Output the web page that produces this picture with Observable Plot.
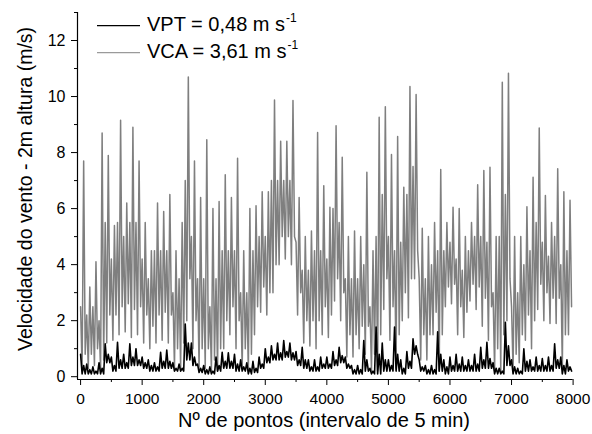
<!DOCTYPE html>
<html><head><meta charset="utf-8">
<script src="https://cdn.jsdelivr.net/npm/d3@7"></script>
<script src="https://cdn.jsdelivr.net/npm/@observablehq/plot@0.6"></script>
<style>
body{margin:0;background:#fff;}
#wrap{position:relative;width:592px;height:434px;font-family:"Liberation Sans",Arial,sans-serif;}
</style></head><body><div id="wrap"></div>
<script>
// Sample index of each 100-point bin start (Nº de pontos)
const binStarts = d3.range(0, 8000, 100);
// VCA (gray) per 100-point bin: maximum, minimum, upper and lower edge of the dense band (m/s)
const vcaMax = [7.7,3.2,4.1,8.7,7.9,5.4,9.15,6.2,8.9,7.7,
  5.5,4.5,6.2,5.9,6.5,4.5,5.5,10.7,7.7,6.4,
  8.46,6.0,6.25,7.21,6.4,7.8,4.5,6.0,6.1,6.6,
  6.6,9.88,8.4,8.4,9.86,6.4,5.0,5.2,8.72,6.82,
  6.05,8.96,7.83,5.0,5.2,5.0,7.3,4.5,9.26,9.64,
  7.93,8.57,6.76,10.36,10.07,5.3,5.0,5.5,7.4,5.5,
  6.05,6.0,5.0,5.5,6.85,7.36,7.48,5.0,10.51,10.83,
  5.0,5.0,6.07,7.12,8.88,6.47,5.5,7.42,6.6,6.3];
const vcaMin = [0.2,0.3,0.4,0.2,1.2,1.3,1.5,1.6,1.4,1.5,
  1.2,1.0,1.2,1.3,1.2,0.3,0.3,2.0,1.0,0.3,
  0.3,0.2,0.2,1.0,1.5,1.0,0.3,0.2,1.5,2.3,
  2.2,3.0,4.0,4.2,4.0,2.2,1.2,1.1,1.0,1.5,
  1.4,2.7,2.0,0.7,0.7,1.0,0.8,0.2,0.2,2.4,
  1.3,0.3,2.0,2.1,3.5,0.6,0.6,1.5,0.2,2.5,
  2.6,1.5,1.4,2.7,2.4,1.8,1.3,0.2,0.2,2.0,
  0.2,0.5,1.3,1.0,2.4,2.0,1.9,1.9,0.3,1.5];
const vcaBandTop = [2.5,2.2,2.5,2.0,5.5,4.2,5.5,5.0,5.5,5.5,
  4.2,3.5,4.5,4.5,4.5,3.0,3.5,7.0,5.0,3.5,
  3.5,2.5,3.5,4.5,4.5,4.5,3.0,3.0,4.5,5.0,
  5.0,7.0,7.0,7.0,7.0,4.8,3.8,3.8,4.5,4.5,
  4.2,6.0,5.5,3.5,3.5,3.5,4.0,2.5,5.0,6.5,
  5.0,4.5,4.8,6.5,7.5,3.5,3.5,4.0,4.5,4.5,
  4.8,4.2,3.8,4.5,5.0,5.0,4.8,3.0,5.0,6.5,
  2.5,3.0,4.0,4.5,5.5,4.8,4.3,5.0,4.0,4.5];
const vcaBandBottom = [0.8,0.8,1.0,0.6,2.2,2.2,2.5,2.6,2.4,2.5,
  2.2,1.8,2.2,2.3,2.2,1.0,1.2,3.5,2.0,1.0,
  1.0,0.6,1.0,2.0,2.5,2.0,1.0,0.8,2.5,3.2,
  3.0,4.0,5.0,5.0,5.0,3.0,2.0,2.0,2.0,2.5,
  2.2,3.5,3.0,1.5,1.5,1.8,1.8,0.8,1.5,3.5,
  2.5,1.5,3.0,3.5,4.5,1.5,1.5,2.3,1.5,3.2,
  3.3,2.5,2.3,3.3,3.2,2.8,2.5,1.0,1.5,3.5,
  0.8,1.5,2.2,2.0,3.3,3.0,2.8,2.8,1.5,2.5];
// VPT (black) per 100-point bin: maximum, minimum, typical level (m/s)
const vptMax = [0.8,0.45,0.35,0.5,1.17,0.7,1.23,0.8,1.17,1.0,
  0.7,0.6,0.5,0.87,0.95,0.5,0.45,1.88,1.2,0.45,
  0.4,0.35,0.7,0.87,0.85,0.8,0.6,0.5,0.55,0.7,
  1.0,1.1,1.2,1.29,1.2,0.9,1.05,0.6,0.6,0.7,
  0.7,0.9,1.05,0.7,0.4,0.4,1.29,0.3,1.77,1.2,
  0.6,1.77,0.6,0.9,1.35,0.6,0.4,0.4,1.6,0.6,
  0.7,0.8,0.7,0.6,0.8,1.05,1.23,0.5,0.3,1.94,
  0.6,0.3,1.0,0.6,0.7,0.65,0.7,1.17,0.7,0.6];
const vptMin = [0.1,0.1,0.1,0.1,0.5,0.2,0.3,0.3,0.4,0.4,
  0.3,0.2,0.2,0.3,0.3,0.2,0.2,0.6,0.4,0.15,
  0.1,0.1,0.2,0.3,0.3,0.2,0.2,0.1,0.15,0.3,
  0.5,0.6,0.6,0.7,0.6,0.4,0.3,0.2,0.2,0.3,
  0.3,0.4,0.5,0.3,0.1,0.1,0.2,0.1,0.1,0.2,
  0.2,0.2,0.1,0.3,0.8,0.2,0.1,0.1,0.2,0.1,
  0.2,0.2,0.2,0.2,0.2,0.3,0.3,0.1,0.1,0.4,
  0.1,0.1,0.2,0.2,0.2,0.2,0.2,0.3,0.1,0.2];
const vptTypical = [0.4,0.25,0.2,0.3,0.8,0.4,0.6,0.5,0.7,0.6,
  0.5,0.4,0.35,0.55,0.55,0.3,0.3,1.2,0.7,0.3,
  0.25,0.2,0.4,0.55,0.55,0.45,0.35,0.3,0.3,0.45,
  0.7,0.8,0.85,0.9,0.85,0.6,0.6,0.35,0.35,0.45,
  0.45,0.6,0.75,0.45,0.25,0.25,0.6,0.2,0.8,0.6,
  0.4,0.8,0.3,0.55,1.1,0.35,0.25,0.25,0.8,0.35,
  0.4,0.45,0.4,0.4,0.45,0.6,0.65,0.3,0.2,1.1,
  0.35,0.2,0.55,0.35,0.4,0.4,0.4,0.6,0.4,0.35];
const xTicks = [0,1000,2000,3000,4000,5000,6000,7000,8000];
const xMinor = [500,1500,2500,3500,4500,5500,6500,7500];
const yTicks = [0,2,4,6,8,10,12];
const yMinor = [1,3,5,7,9,11,13];
const xDomain = [-50, 8000];
const yDomain = [-0.1, 13];
const xTitle = "Nº de pontos (intervalo de 5 min)";
const yTitle = "Velocidade do vento - 2m altura (m/s)";
const legendItems = [
  {label: "VPT = 0,48 m s", sup: "-1", color: "#000000"},
  {label: "VCA = 3,61 m s", sup: "-1", color: "#9a9a9a"}
];

// one vertex every 25 points: four readings per 100-point bin
function series(cols) {
  const rows = [];
  binStarts.forEach((b, i) => {
    cols.forEach((c, k) => rows.push({x: b + k * 25, y: c[i]}));
  });
  return rows;
}
const vca = series([vcaBandTop, vcaMin, vcaMax, vcaBandBottom]);
const vpt = series([vptMax, vptMin, vptTypical, vptMin]);

const font = '"Liberation Sans", Arial, sans-serif';
const chart = Plot.plot({
  width: 592, height: 434,
  marginLeft: 77, marginRight: 19.4, marginTop: 12, marginBottom: 55,
  style: {fontFamily: font, color: "#000", background: "#fff"},
  x: {domain: xDomain},
  y: {domain: yDomain},
  marks: [
    Plot.line(vca, {x: "x", y: "y", stroke: "#7f7f7f", strokeWidth: 1.5}),
    Plot.line(vpt, {x: "x", y: "y", stroke: "#000", strokeWidth: 1.6}),
    Plot.ruleY([yDomain[0]], {stroke: "#000", strokeWidth: 1.2}),
    Plot.ruleX([xDomain[0]], {stroke: "#000", strokeWidth: 1.2}),
    Plot.axisX(xTicks, {tickSize: 6, tickPadding: 7, fontSize: 15.5, stroke: "#000", label: null, tickFormat: d => String(d)}),
    Plot.axisX(xMinor, {tickSize: 3, text: null, stroke: "#000", label: null}),
    Plot.axisY(yTicks, {tickSize: 6, tickPadding: 6, fontSize: 16, stroke: "#000", label: null}),
    Plot.axisY(yMinor, {tickSize: 3, text: null, stroke: "#000", label: null})
  ]
});
const wrap = document.getElementById("wrap");
wrap.appendChild(chart);
const svg = d3.select(chart);
svg.append("text").attr("x", 324).attr("y", 427).attr("text-anchor", "middle")
  .attr("font-size", 20).attr("font-family", font).attr("fill", "#000").text(xTitle);
svg.append("text").attr("transform", "translate(32,189) rotate(-90)").attr("text-anchor", "middle")
  .attr("font-size", 19.5).attr("font-family", font).attr("fill", "#000").text(yTitle);
const lg = svg.append("g");
legendItems.forEach((d, i) => {
  const yy = 25.7 + i * 27;
  lg.append("line").attr("x1", 97).attr("x2", 140).attr("y1", yy).attr("y2", yy)
    .attr("stroke", d.color).attr("stroke-width", 1.2);
  const t = lg.append("text").attr("x", 147).attr("y", yy + 5.5).attr("text-anchor", "start")
    .attr("font-size", 20).attr("font-family", font).attr("fill", "#000");
  t.append("tspan").text(d.label);
  t.append("tspan").attr("font-size", 12).attr("dy", -9).attr("dx", 1).text(d.sup);
});
</script></body></html>
